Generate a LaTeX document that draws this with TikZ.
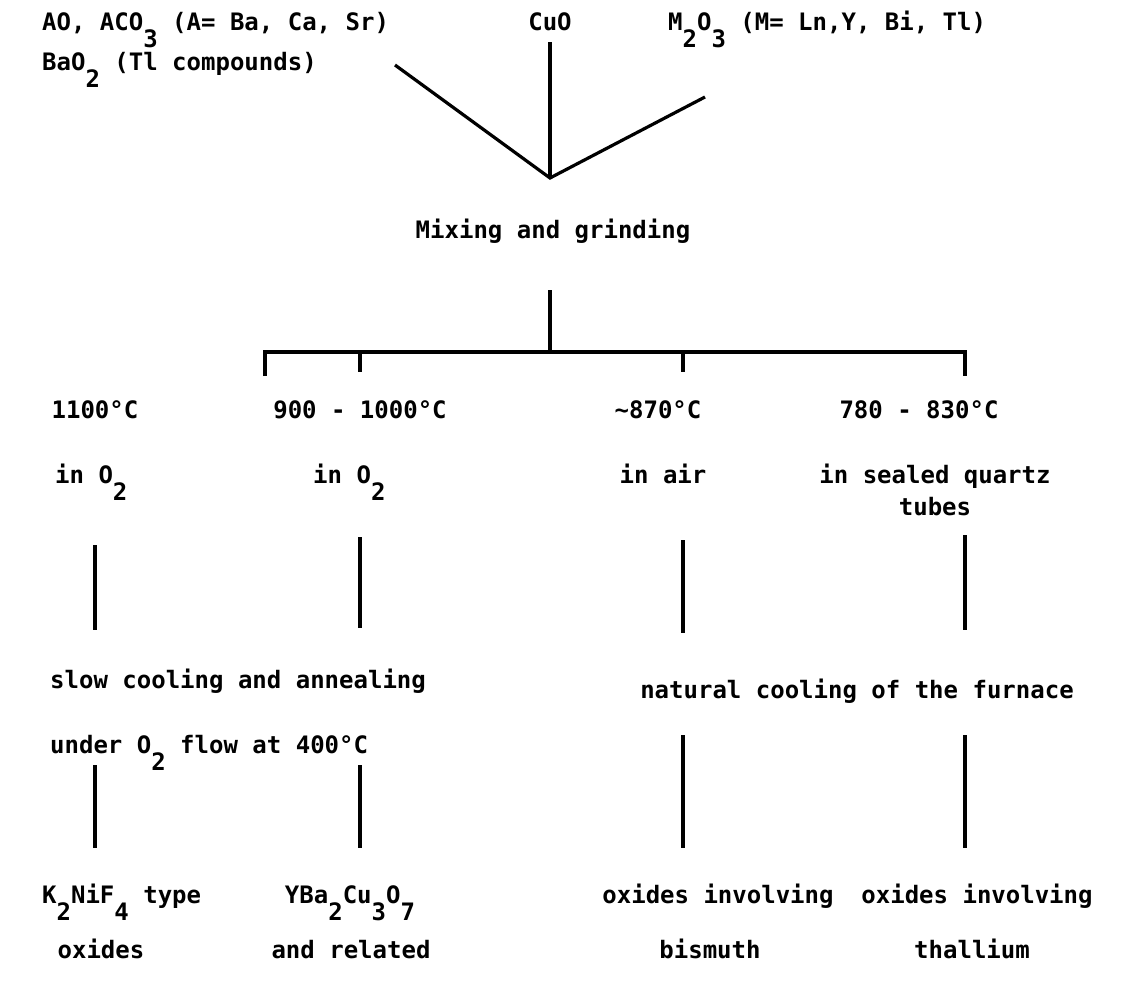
\documentclass[tikz,border=0pt]{standalone}
\usepackage{fontspec}
\setmonofont{DejaVu Sans Mono}
\newcommand{\lowr}[1]{\raisebox{-0.72em}{#1}}
\begin{document}
\begin{tikzpicture}[x=1pt,y=-1pt,
  txt/.style={font=\ttfamily\bfseries\fontsize{24}{28}\selectfont, inner sep=0pt},
  ln/.style={line width=3.2pt}]
\useasboundingbox[fill=white] (0,0) rectangle (1124,988);
% top row
\node[txt,anchor=base west] (aco) at (42,30) {AO, ACO\lowr{3} (A= Ba, Ca, Sr)};
\node[txt,anchor=base] (cuo) at (550,30) {CuO};
\node[txt,anchor=base west] (mo) at (668,30) {M\lowr{2}O\lowr{3} (M= Ln,Y, Bi, Tl)};
\node[txt,anchor=base west] (bao) at (42,70) {BaO\lowr{2} (Tl compounds)};
\node[txt,anchor=base] (mix) at (553,238) {Mixing and grinding};
\coordinate (l1) at (395,65);
\coordinate (c1) at (550,42);
\coordinate (r1) at (705,97);
\coordinate (j) at (550,178);
\draw[ln] (l1) -- (j) -- (r1);
\draw[ln] (c1) -- (j);
\coordinate (m1) at (550,290);
\coordinate (m2) at (550,352);
\draw[ln] (m1) -- (m2);
\coordinate (b1) at (265,352);
\coordinate (b4) at (965,352);
\coordinate (b1d) at (265,376);
\coordinate (b4d) at (965,376);
\coordinate (b2) at (360,352);
\coordinate (b2d) at (360,372);
\coordinate (b3) at (683,352);
\coordinate (b3d) at (683,372);
\draw[ln] (b1d) -- (b1) -- (b4) -- (b4d);
\draw[ln] (b2) -- (b2d);
\draw[ln] (b3) -- (b3d);
% temperatures
\node[txt,anchor=base] (t1) at (95,418) {1100°C};
\node[txt,anchor=base] (t2) at (360,418) {900 - 1000°C};
\node[txt,anchor=base] (t3) at (658,418) {\textasciitilde870°C};
\node[txt,anchor=base] (t4) at (919,418) {780 - 830°C};
% atmospheres
\node[txt,anchor=base west] (i1) at (55,483) {in O\lowr{2}};
\node[txt,anchor=base west] (i2) at (313,483) {in O\lowr{2}};
\node[txt,anchor=base] (i3) at (663,483) {in air};
\node[txt,anchor=base] (i4) at (935,483) {in sealed quartz};
\node[txt,anchor=base] (tubes) at (935,515) {tubes};
% vertical lines 1
\coordinate (v1a) at (95,545);  \coordinate (v1b) at (95,630);
\coordinate (v2a) at (360,537); \coordinate (v2b) at (360,628);
\coordinate (v3a) at (683,540); \coordinate (v3b) at (683,633);
\coordinate (v4a) at (965,535); \coordinate (v4b) at (965,630);
\draw[ln] (v1a) -- (v1b);
\draw[ln] (v2a) -- (v2b);
\draw[ln] (v3a) -- (v3b);
\draw[ln] (v4a) -- (v4b);
% cooling
\node[txt,anchor=base west] (slow) at (50,688) {slow cooling and annealing};
\node[txt,anchor=base] (nat) at (857,698) {natural cooling of the furnace};
\node[txt,anchor=base west] (under) at (50,753) {under O\lowr{2} flow at 400°C};
% vertical lines 2
\coordinate (w1a) at (95,765);  \coordinate (w1b) at (95,848);
\coordinate (w2a) at (360,765); \coordinate (w2b) at (360,848);
\coordinate (w3a) at (683,735); \coordinate (w3b) at (683,848);
\coordinate (w4a) at (965,735); \coordinate (w4b) at (965,848);
\draw[ln] (w1a) -- (w1b);
\draw[ln] (w2a) -- (w2b);
\draw[ln] (w3a) -- (w3b);
\draw[ln] (w4a) -- (w4b);
% products
\node[txt,anchor=base west] (k2) at (42,903) {K\lowr{2}NiF\lowr{4} type};
\node[txt,anchor=base] (yba) at (350,903) {YBa\lowr{2}Cu\lowr{3}O\lowr{7}};
\node[txt,anchor=base] (oxb) at (718,903) {oxides involving};
\node[txt,anchor=base] (oxt) at (977,903) {oxides involving};
\node[txt,anchor=base] (ox) at (101,958) {oxides};
\node[txt,anchor=base] (rel) at (351,958) {and related};
\node[txt,anchor=base] (bis) at (710,958) {bismuth};
\node[txt,anchor=base] (thal) at (972,958) {thallium};
\end{tikzpicture}
\end{document}
